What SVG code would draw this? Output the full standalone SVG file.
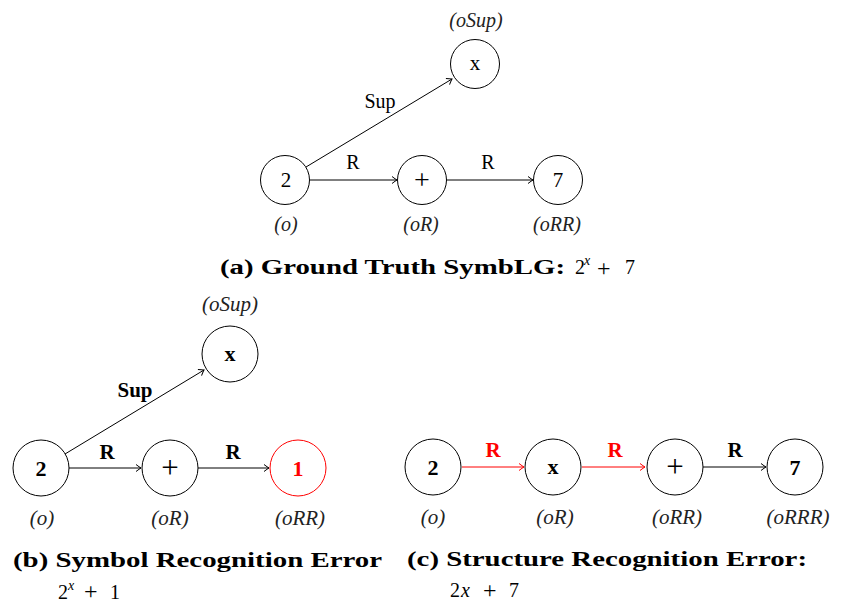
<svg xmlns="http://www.w3.org/2000/svg" width="841" height="605" viewBox="0 0 841 605">
<style>
text{font-family:"Liberation Serif","DejaVu Serif",serif;fill:#000}
.n{fill:#fff;stroke:#000;stroke-width:1}
.nr{fill:#fff;stroke:#f00;stroke-width:1}
.nt{font-size:21px;text-anchor:middle}
.ntb{font-size:22px;font-weight:bold;text-anchor:middle}
.pl{font-size:28px;text-anchor:middle}
.lab{font-size:20px;font-style:italic;text-anchor:middle;fill:#222}
.labb{font-size:21px;font-style:italic;text-anchor:middle;fill:#222}
.el{font-size:20px;text-anchor:middle}
.elb{font-size:21px;font-weight:bold;text-anchor:middle}
.red{fill:#f00}
.e{stroke:#000;stroke-width:1;fill:none;marker-end:url(#ah)}
.er{stroke:#f00;stroke-width:1;fill:none;marker-end:url(#ahr)}
.cap{font-size:20px;font-weight:bold}
.m{font-size:20px}
.mp{font-size:24px}
</style>
<defs>
<marker id="ah" markerWidth="10" markerHeight="10" refX="0" refY="0" viewBox="-6 -5 7 10" orient="auto" markerUnits="userSpaceOnUse">
<path d="M-5,-3.5 Q-1.5,-0.8 0,0 Q-1.5,0.8 -5,3.5" fill="none" stroke="#000" stroke-width="1"/>
</marker>
<marker id="ahr" markerWidth="10" markerHeight="10" refX="0" refY="0" viewBox="-6 -5 7 10" orient="auto" markerUnits="userSpaceOnUse">
<path d="M-5,-3.5 Q-1.5,-0.8 0,0 Q-1.5,0.8 -5,3.5" fill="none" stroke="#f00" stroke-width="1"/>
</marker>
</defs>

<g id="connectors">
<line class="e" x1="310" y1="180" x2="397" y2="180"/>
<line class="e" x1="446" y1="180" x2="533" y2="180"/>
<line class="e" x1="306" y1="167" x2="452" y2="79"/>
<line class="e" x1="69" y1="468" x2="141" y2="468"/>
<line class="e" x1="198" y1="468" x2="269" y2="468"/>
<line class="e" x1="65" y1="454" x2="204" y2="370"/>
<line class="er" x1="462" y1="467" x2="524" y2="467"/>
<line class="er" x1="582" y1="467" x2="645" y2="467"/>
<line class="e" x1="703" y1="467" x2="766" y2="467"/>
<text class="el" x="353" y="169">R</text>
<text class="el" x="488" y="169">R</text>
<text class="el" x="380" y="108">Sup</text>
<text class="elb" x="107" y="459">R</text>
<text class="elb" x="233" y="459">R</text>
<text class="elb" x="135" y="397">Sup</text>
<text class="elb red" x="493" y="457">R</text>
<text class="elb red" x="615" y="457">R</text>
<text class="elb" x="735" y="457">R</text>
</g>

<g id="a-2"><circle class="n" cx="285" cy="180" r="24.5"/><text class="nt" x="286" y="187">2</text><text class="lab" x="286" y="231">(o)</text></g>
<g id="a-plus"><circle class="n" cx="422" cy="180" r="24.5"/><text class="pl" x="422" y="189">+</text><text class="lab" x="421" y="231">(oR)</text></g>
<g id="a-7"><circle class="n" cx="558" cy="180" r="24.5"/><text class="nt" x="558" y="187">7</text><text class="lab" x="557" y="231">(oRR)</text></g>
<g id="a-x"><circle class="n" cx="475" cy="64" r="24.5"/><text class="nt" x="475" y="70">x</text><text class="lab" x="476" y="27">(oSup)</text></g>

<g id="b-2"><circle class="n" cx="41" cy="468" r="28"/><text class="ntb" x="41" y="476">2</text><text class="labb" x="42" y="525">(o)</text></g>
<g id="b-plus"><circle class="n" cx="170" cy="468" r="28"/><text class="pl" x="170" y="478" style="font-size:31px">+</text><text class="labb" x="170" y="525">(oR)</text></g>
<g id="b-1"><circle class="nr" cx="298" cy="468" r="28"/><text class="ntb red" x="298" y="476">1</text><text class="labb" x="300" y="525">(oRR)</text></g>
<g id="b-x"><circle class="n" cx="230" cy="354" r="28"/><text class="ntb" x="230" y="361">x</text><text class="labb" x="230" y="311">(oSup)</text></g>

<g id="c-2"><circle class="n" cx="433" cy="467" r="28"/><text class="ntb" x="433" y="475">2</text><text class="labb" x="433" y="524">(o)</text></g>
<g id="c-x"><circle class="n" cx="553" cy="467" r="28"/><text class="ntb" x="553" y="474">x</text><text class="labb" x="555" y="524">(oR)</text></g>
<g id="c-plus"><circle class="n" cx="675" cy="467" r="28"/><text class="pl" x="675" y="477" style="font-size:31px">+</text><text class="labb" x="677" y="524">(oRR)</text></g>
<g id="c-7"><circle class="n" cx="795" cy="467" r="28"/><text class="ntb" x="795" y="475">7</text><text class="labb" x="798" y="524">(oRRR)</text></g>

<g id="captions">
<text class="cap" x="220" y="274" textLength="345" lengthAdjust="spacingAndGlyphs">(a) Ground Truth SymbLG:</text>
<text class="m" x="575" y="274">2</text><text class="m" x="584" y="265" style="font-size:14px;font-style:italic">x</text><text class="mp" x="597" y="276">+</text><text class="m" x="625" y="274">7</text>
<text class="cap" x="13" y="567" textLength="369" lengthAdjust="spacingAndGlyphs">(b) Symbol Recognition Error</text>
<text class="m" x="58" y="599">2</text><text class="m" x="68" y="590" style="font-size:14px;font-style:italic">x</text><text class="mp" x="84" y="599">+</text><text class="m" x="110" y="599">1</text>
<text class="cap" x="407" y="566" textLength="400" lengthAdjust="spacingAndGlyphs">(c) Structure Recognition Error:</text>
<text class="m" x="450" y="597">2</text><text class="m" x="461" y="597" style="font-style:italic">x</text><text class="mp" x="483" y="598">+</text><text class="m" x="509" y="597">7</text>
</g>
</svg>
